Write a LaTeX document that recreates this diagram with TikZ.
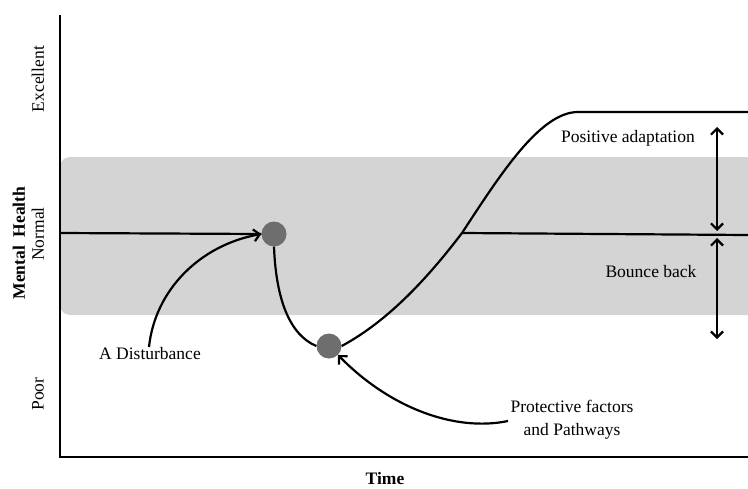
\documentclass[tikz,border=0pt]{standalone}
\usepackage{fontspec}
\setmainfont{Liberation Serif}
\usetikzlibrary{arrows.meta}
\begin{document}
\begin{tikzpicture}[x=1pt,y=-1pt,
  curve/.style={line width=2.2pt},
  dot/.style={circle,fill=black!57,minimum size=25pt,inner sep=0pt},
  lbl/.style={font=\fontsize{17.5}{23}\selectfont,align=center},
  ylbl/.style={font=\fontsize{17.5}{20}\selectfont,rotate=90},
  arr/.style={line width=2.2pt,-{Straight Barb[length=6pt,width=12pt]}},
  darr/.style={line width=2.2pt,{Straight Barb[length=6pt,width=12pt]}-{Straight Barb[length=6pt,width=12pt]}}]
\useasboundingbox (0,0) rectangle (748,488);
% band
\fill[black!17,rounded corners=10pt] (60,157) rectangle (770,315);
\fill[white] (748,150) rectangle (780,320);
% axes
\coordinate (top) at (60,15);
\coordinate (orig) at (60,457);
\coordinate (xend) at (748,457);
\draw[line width=2pt] (top) -- (orig) -- (xend);
% dots
\node[dot] (d1) at (274,234) {};
\node[dot] (d2) at (329,346) {};
\coordinate (base0) at (60,233);
\coordinate (mid) at (462,233);
\coordinate (midend) at (748,235);
\coordinate (topend) at (748,112);
\draw[curve] (base0) -- (d1.west);
\draw[curve] (d1.south) .. controls (276,300) and (290,335) .. (d2.west);
\draw[curve] (d2.east) .. controls (390,320) and (430,275) .. (mid)
  .. controls (500,175) and (540,112) .. (578,112) -- (topend);
\draw[curve] (mid) -- (midend);
% double arrows
\coordinate (a1) at (717,127);
\coordinate (a2) at (717,231);
\coordinate (a3) at (717,238);
\coordinate (a4) at (717,339);
\draw[darr] (a1) -- (a2);
\draw[darr] (a3) -- (a4);
% labels
\node[lbl] (pa) at (628,138) {Positive adaptation};
\node[lbl] (bb) at (651,272) {Bounce back};
\node[lbl] (dist) at (150,354) {A Disturbance};
\node[lbl] (prot) at (572,420) {Protective factors\\and Pathways};
\node[lbl,font=\fontsize{17.5}{20}\selectfont\bfseries] (time) at (385,479) {Time};
\node[ylbl] (exc) at (38,79) {Excellent};
\node[ylbl] (norm) at (38,234) {Normal};
\node[ylbl,font=\fontsize{17.5}{20}\selectfont\bfseries] (mh) at (19,243) {Mental\ \ Health};
\node[ylbl] (poor) at (38,394) {Poor};
% pointer arrows
\coordinate (ds) at (149,347);
\coordinate (ps) at (508,421);
\draw[arr] (ds) .. controls (155,290) and (200,245) .. (d1.west);
\draw[arr] (ps) .. controls (455,432) and (390,408) .. (d2.south east);
\end{tikzpicture}
\end{document}
